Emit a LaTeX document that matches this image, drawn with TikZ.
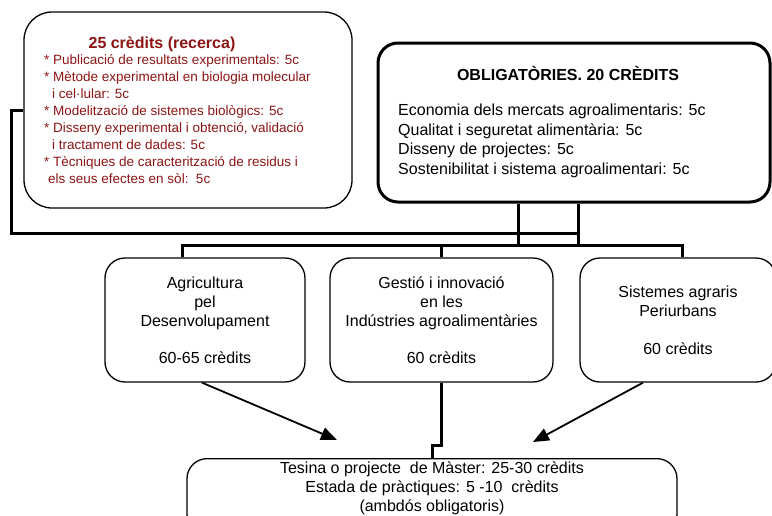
\documentclass[tikz,border=0pt]{standalone}
\usepackage{fontspec}
\setmainfont{Liberation Sans}
\usetikzlibrary{arrows.meta}
\definecolor{darkred}{RGB}{140,20,20}

\begin{document}
\begin{tikzpicture}[
    x=1pt, y=-1pt,
    box/.style={draw, rounded corners=20pt, line width=1.3pt, inner sep=0pt, align=center,
      font=\fontsize{16}{19}\selectfont},
    bus/.style={line width=3pt},
    arrow/.style={line width=1.8pt, -{Triangle[length=16pt, width=13pt]}}
  ]
  \useasboundingbox (0,0) rectangle (772,515);

  % research box
  \node [box, rounded corners=28pt, minimum width=328pt, minimum height=196pt] (recerca) at (188,110) {};
  \node [text=darkred, font=\bfseries\fontsize{16}{18}\selectfont] (recercatitle) at (162,44) {25 crèdits (recerca)};
  \node [text=darkred, anchor=north west, align=left, inner sep=0pt,
    font=\fontsize{13.5}{17.1}\selectfont] (recercalist) at (44,54) {%
    * Publicació de resultats experimentals: 5c\\
    * Mètode experimental en biologia molecular\\
    \hspace*{8pt}i cel·lular: 5c\\
    * Modelització de sistemes biològics: 5c\\
    * Disseny experimental i obtenció, validació\\
    \hspace*{8pt}i tractament de dades: 5c\\
    * Tècniques de caracterització de residus i\\
    \hspace*{4pt}els seus efectes en sòl:\ \ 5c};

  % compulsory box
  \node [box, line width=3pt, minimum width=392pt, minimum height=159pt] (oblig) at (574,122.5) {};
  \node [font=\bfseries\fontsize{16}{18}\selectfont] (obligtitle) at (568,73) {OBLIGATÒRIES. 20 CRÈDITS};
  \node [anchor=north west, align=left, inner sep=0pt,
    font=\fontsize{16}{19.5}\selectfont] (obliglist) at (398,104) {%
    Economia dels mercats agroalimentaris: 5c\\
    Qualitat i seguretat alimentària: 5c\\
    Disseny de projectes: 5c\\
    Sostenibilitat i sistema agroalimentari: 5c};

  % specialities
  \node [box, minimum width=200pt, minimum height=124pt] (agri) at (205,320)
    {Agricultura\\pel\\Desenvolupament\\[18pt]60-65 crèdits};
  \node [box, minimum width=223pt, minimum height=124pt] (gestio) at (441.5,320)
    {Gestió i innovació\\en les\\Indústries agroalimentàries\\[18pt]60 crèdits};
  \node [box, minimum width=196pt, minimum height=124pt] (sist) at (678,320)
    {Sistemes agraris\\Periurbans\\[19pt]60 crèdits};

  % final project
  \node [box, anchor=north, minimum width=490pt, inner ysep=3pt, text depth=20pt] (tesina) at (432,458)
    {Tesina o projecte\ \ de Màster: 25-30 crèdits\\Estada de pràctiques: 5 -10\ \ crèdits\\(ambdós obligatoris)};

  % bus lines
  \coordinate (busL) at (518,245);
  \coordinate (busR) at (578,245);
  \coordinate (joint) at (578,233);
  \draw [bus] (recerca.west) -- ++(-12,0) |- (joint);
  \draw [bus] (oblig.south -| busL) -- (busL);
  \draw [bus] (oblig.south -| busR) -- (busR);
  \draw [bus] ([xshift=-23]agri.north) |- (busL) -- (busR) -| ([xshift=4]sist.north);
  \draw [bus] (gestio.north) -- (gestio.north |- busL);
  \draw [bus] (gestio.south) -- ++(0,63) -| (tesina.north);

  % arrows
  \coordinate (tipL) at (337,440);
  \coordinate (tipR) at (533,442);
  \draw [arrow] ([xshift=-3]agri.south) -- (tipL);
  \draw [arrow] ([xshift=-35]sist.south) -- (tipR);
\end{tikzpicture}
\end{document}
